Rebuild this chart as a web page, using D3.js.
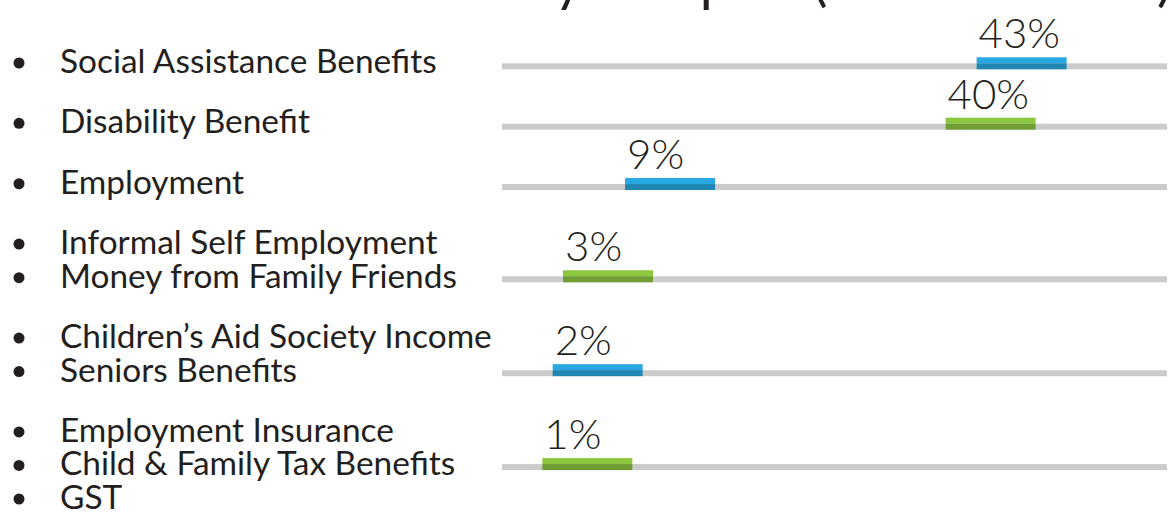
<!DOCTYPE html>
<html><head><meta charset="utf-8">
<script src="https://cdn.jsdelivr.net/npm/d3@7"></script>
<style>html,body{margin:0;padding:0;background:#fff;overflow:hidden}</style>
</head><body>
<svg id="chart" width="1172" height="513"></svg>
<script>
// ---- data ----
const title = "Income Sources in Study Samples (Overall Totals)";
const categories = [
  ["Social Assistance Benefits"],
  ["Disability Benefit"],
  ["Employment"],
  ["Informal Self Employment", "Money from Family Friends"],
  ["Children’s Aid Society Income", "Seniors Benefits"],
  ["Employment Insurance", "Child & Family Tax Benefits", "GST"]
];
const values = [43, 40, 9, 3, 2, 1];
const valueLabels = ["43%", "40%", "9%", "3%", "2%", "1%"];

// ---- style / layout ----
const W = 1172, H = 513;
const textColor = "#231f20";
const trackColor = "#cbcbcb";
const palette = [
  { top: "#27a8e0", bottom: "#1f87b2" },
  { top: "#8dc63f", bottom: "#6e9d32" }
];
const labelFont = "Lato, 'Open Sans', sans-serif";
const numFont = "Lato, 'Open Sans', sans-serif";
const labelX = 60, bulletX = 19, bulletR = 5.5;
const trackX0 = 502, trackX1 = 1167, trackH = 6, barW = 90, barH = 12;
const groupGap = 0.8;

const svg = d3.select("#chart");

// slots for label lines
let slot = 0;
const groups = categories.map((lines, i) => {
  const g = { lines, value: values[i], label: valueLabels[i], start: slot, idx: i };
  slot += lines.length + groupGap;
  return g;
});
const lastSlot = slot - groupGap - 1;
const yLine = d3.scaleLinear().domain([0, lastSlot]).range([73, 509]);
const x = d3.scaleLinear().domain([0, 50]).range([532, 1049]);

// title (mostly above the visible area)
svg.append("text")
  .attr("x", 1172).attr("y", 0)
  .attr("text-anchor", "end")
  .attr("font-family", numFont).attr("font-weight", 400)
  .attr("font-size", 56).attr("fill", textColor)
  .text(title);

// labels
const labelG = svg.append("g");
const lineData = groups.flatMap(g => g.lines.map((t, k) => ({ t, y: yLine(g.start + k) })));
const lbl = labelG.selectAll("text.lbl").data(lineData).join("text")
  .attr("class", "lbl")
  .attr("x", labelX).attr("y", d => d.y)
  .attr("font-family", labelFont).attr("font-size", 28)
  .attr("fill", textColor)
  .text(d => d.t);
// fit font so widest label matches reference width
let maxW = 0;
lbl.each(function(d){ if (d.t.startsWith("Children")) maxW = this.getComputedTextLength(); });
const fs = 28 * 432 / maxW;
lbl.attr("font-size", fs);

labelG.selectAll("circle").data(lineData).join("circle")
  .attr("cx", bulletX).attr("cy", d => d.y - 10)
  .attr("r", bulletR).attr("fill", textColor);

// tracks & bars
const trackY = g => yLine(g.start + (g.lines.length > 1 ? 0.75 : -0.2)) - trackH / 2;
const rows = svg.append("g").selectAll("g").data(groups).join("g");
rows.append("rect")
  .attr("x", trackX0).attr("y", d => trackY(d))
  .attr("width", trackX1 - trackX0).attr("height", trackH)
  .attr("fill", trackColor);
rows.append("rect")
  .attr("x", d => x(d.value)).attr("y", d => trackY(d) + trackH - barH)
  .attr("width", barW).attr("height", barH / 2)
  .attr("fill", d => palette[d.idx % 2].top);
rows.append("rect")
  .attr("x", d => x(d.value)).attr("y", d => trackY(d) + trackH - barH / 2)
  .attr("width", barW).attr("height", barH / 2)
  .attr("fill", d => palette[d.idx % 2].bottom);
rows.append("text")
  .attr("x", d => x(d.value) + 2)
  .attr("y", d => trackY(d) + trackH - barH - 9)
  .attr("font-family", numFont).attr("font-weight", 300)
  .attr("font-size", 42).attr("fill", textColor)
  .text(d => d.label);
</script>
</body></html>
